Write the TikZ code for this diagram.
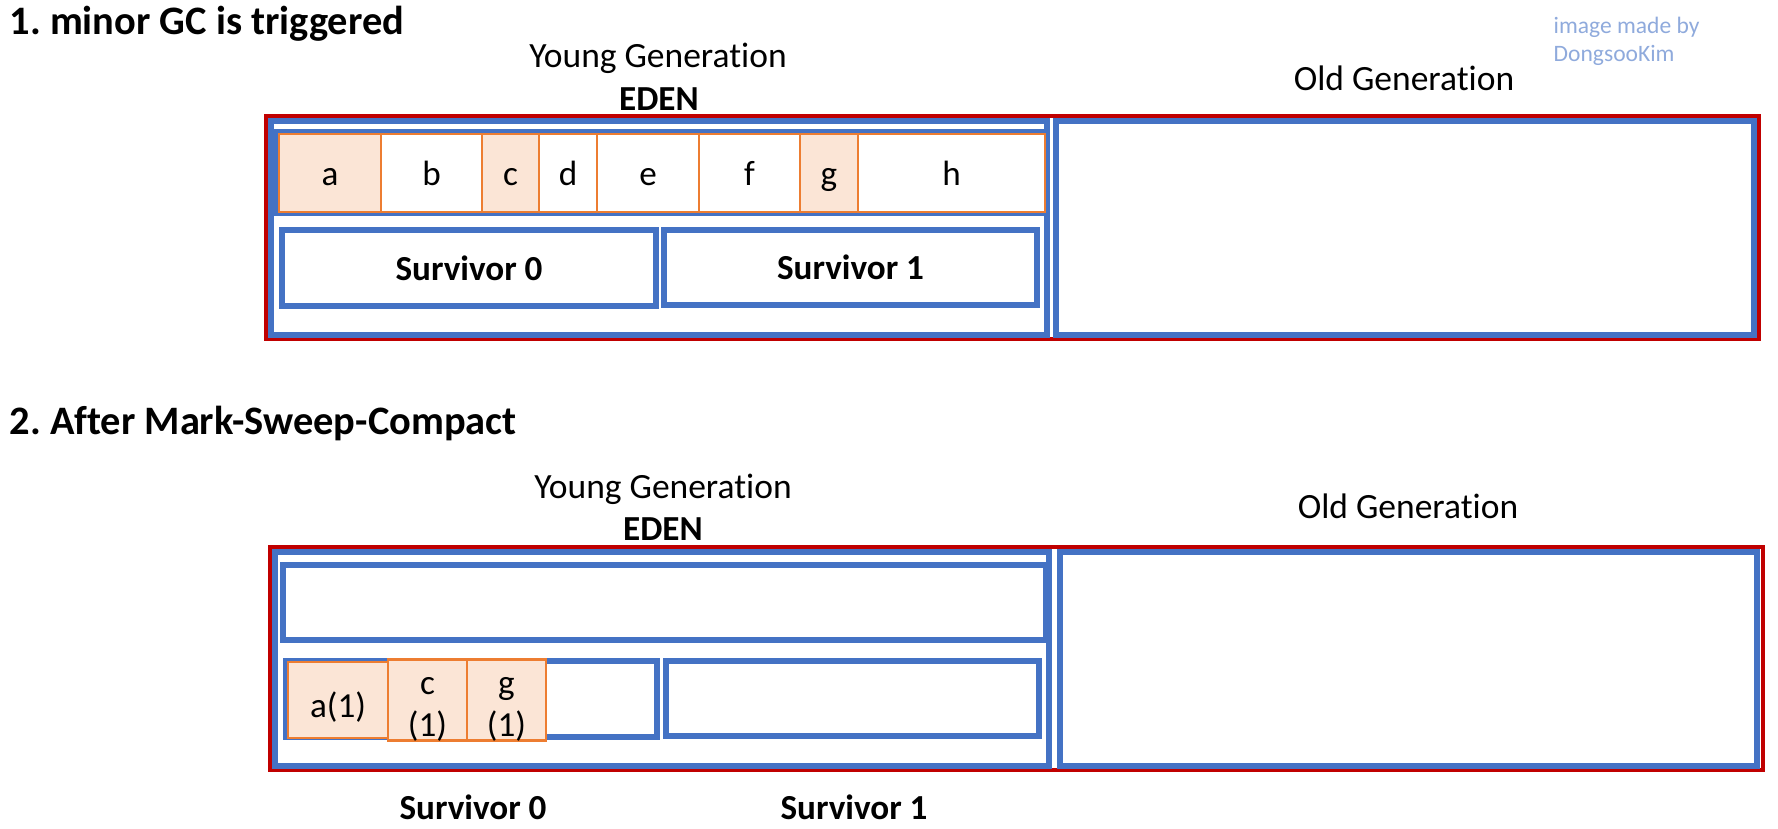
\documentclass[tikz,border=0pt]{standalone}
\usepackage{fontspec}
\setmainfont{Carlito}[Ligatures=NoCommon]
\usetikzlibrary{positioning}
\frenchspacing

\definecolor{gcred}{HTML}{C00000}
\definecolor{gcblue}{HTML}{4472C4}
\definecolor{gcorange}{HTML}{ED7D31}
\definecolor{gcpeach}{HTML}{FBE5D6}
\definecolor{gccredit}{HTML}{8FAADC}

\tikzset{
  heapbox/.style={draw=gcred, line width=1.2pt},
  genbox/.style={draw=gcblue, line width=1.9pt},
  objcell/.style={draw=gcorange, line width=0.6pt, fill=white, minimum height=7.8mm,
    inner sep=0pt, outer sep=0pt, text height=7pt, text depth=0pt,
    font=\fontsize{10}{12}\selectfont},
  live/.style={fill=gcpeach},
  headline/.style={anchor=base west, inner sep=0pt, font=\fontsize{11.5}{13}\selectfont\bfseries},
  gentext/.style={anchor=base, inner sep=0pt, font=\fontsize{10.1}{12}\selectfont},
  edentext/.style={anchor=base, inner sep=0pt, font=\fontsize{10}{12}\selectfont\bfseries},
  survtext/.style={inner sep=0pt, font=\fontsize{10}{12}\selectfont\bfseries},
  credit/.style={anchor=base west, inner sep=0pt, text=gccredit, font=\fontsize{6.7}{8}\selectfont}
}
\newcommand{\twoline}[2]{\parbox[b]{7mm}{\centering #1\\#2}}

\begin{document}
\begin{tikzpicture}[x=0.1mm, y=-0.1mm]
\useasboundingbox (0,0) rectangle (1778,829);

% 1. minor GC
\node[headline] (title1) at (9,35) {1. minor GC is triggered};
\node[credit] (credit1) at (1553,34) {image made by};
\node[credit] (credit2) at (1553,62) {DongsooKim};
\node[gentext] (young1) at (658,68) {Young Generation};
\node[edentext] (eden1) at (659,111) {EDEN};
\node[gentext] (old1) at (1404,91) {Old Generation};

\draw[heapbox] (266,116) rectangle (1759,339);
\draw[genbox] (271,121) rectangle (1047,335);
\draw[genbox] (1056,121) rectangle (1754,335);
\draw[genbox] (275,132) rectangle (1044,213);
\draw[genbox] (282,230) rectangle node[survtext] (surv0) {Survivor 0} (656,306);
\draw[genbox] (664,230) rectangle node[survtext] (surv1) {Survivor 1} (1037,305);

% objects in eden
\node[objcell, live, minimum width=10.2mm, anchor=north west] (a) at (279,134) {a};
\node[objcell, minimum width=10.1mm, right=0pt of a] (b) {b};
\node[objcell, live, minimum width=5.7mm, right=0pt of b] (c) {c};
\node[objcell, minimum width=5.8mm, right=0pt of c] (d) {d};
\node[objcell, minimum width=10.2mm, right=0pt of d] (e) {e};
\node[objcell, minimum width=10.1mm, right=0pt of e] (f) {f};
\node[objcell, live, minimum width=5.8mm, right=0pt of f] (g) {g};
\node[objcell, minimum width=18.7mm, right=0pt of g] (h) {h};

% 2. after mark-sweep-compact
\node[headline] (title2) at (9,435) {2. After Mark-Sweep-Compact};
\node[gentext] (young2) at (663,499) {Young Generation};
\node[edentext] (eden2) at (663,541) {EDEN};
\node[gentext] (old2) at (1408,519) {Old Generation};

\draw[heapbox] (270,547) rectangle (1763,770);
\draw[genbox] (275,552) rectangle (1049,766);
\draw[genbox] (1060,552) rectangle (1757,766);
\draw[genbox] (283,565) rectangle (1046,640);
\draw[genbox] (286,661) rectangle (657,737);
\draw[genbox] (666,661) rectangle (1039,736);

% survivors in s0
\node[objcell, live, minimum width=10mm, minimum height=7.6mm, text height=10pt,
  anchor=north west] (a1) at (288,662) {a(1)};
\node[objcell, live, minimum width=7.9mm, minimum height=8.1mm, text height=20.8pt,
  right=0pt of a1] (c1) {\twoline{c}{(1)}};
\node[objcell, live, minimum width=7.9mm, minimum height=8.1mm, text height=20.8pt,
  right=0pt of c1] (g1) {\twoline{g}{(1)}};

\node[edentext] (surv0lbl) at (473,820) {Survivor 0};
\node[edentext] (surv1lbl) at (854,820) {Survivor 1};

\end{tikzpicture}
\end{document}
